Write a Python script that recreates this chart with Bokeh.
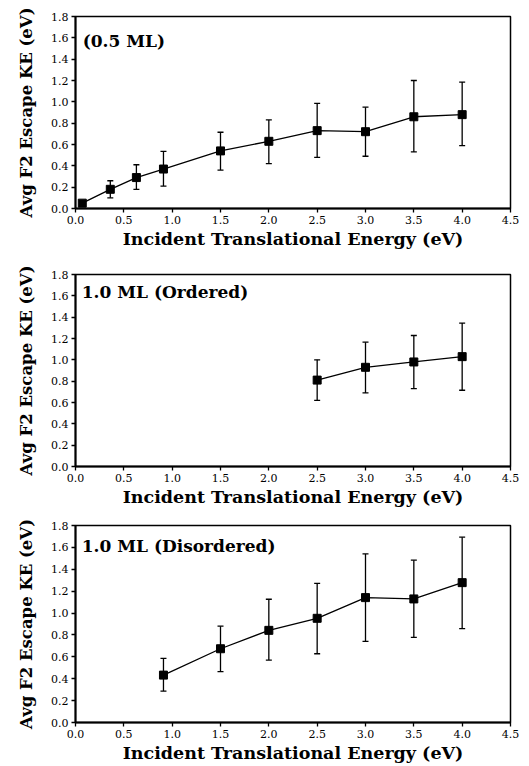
from bokeh.plotting import figure
from bokeh.layouts import column
from bokeh.models import ColumnDataSource, Whisker, Range1d, Label, FixedTicker, PrintfTickFormatter, TeeHead
from bokeh.embed import file_html
from bokeh.resources import INLINE

# ---- data ----
x_05 = [0.07, 0.36, 0.63, 0.91, 1.5, 2.0, 2.5, 3.0, 3.5, 4.0]
y_05 = [0.05, 0.18, 0.29, 0.37, 0.54, 0.63, 0.73, 0.72, 0.86, 0.88]
lo_05 = [0.05, 0.10, 0.18, 0.21, 0.36, 0.42, 0.48, 0.49, 0.53, 0.59]
hi_05 = [0.05, 0.26, 0.41, 0.535, 0.715, 0.83, 0.985, 0.95, 1.20, 1.185]

x_ord = [2.5, 3.0, 3.5, 4.0]
y_ord = [0.81, 0.93, 0.98, 1.03]
lo_ord = [0.62, 0.69, 0.73, 0.715]
hi_ord = [1.0, 1.166, 1.228, 1.345]

x_dis = [0.91, 1.5, 2.0, 2.5, 3.0, 3.5, 4.0]
y_dis = [0.433, 0.674, 0.842, 0.952, 1.141, 1.129, 1.278]
lo_dis = [0.287, 0.464, 0.57, 0.628, 0.741, 0.778, 0.857]
hi_dis = [0.586, 0.88, 1.126, 1.272, 1.54, 1.483, 1.693]

x_ticks = [0.0, 0.5, 1.0, 1.5, 2.0, 2.5, 3.0, 3.5, 4.0, 4.5]
y_ticks = [0.0, 0.2, 0.4, 0.6, 0.8, 1.0, 1.2, 1.4, 1.6, 1.8]
x_title = "Incident Translational Energy (eV)"
y_title = "Avg F2 Escape KE (eV)"
panel_titles = ["(0.5 ML)", "1.0 ML (Ordered)", "1.0 ML (Disordered)"]

SERIF = "DejaVu Serif"


def make_panel(xs, ys, lo, hi, title, height, bl, br, bt, bb, lab_x, lab_y):
    p = figure(width=520, height=height, output_backend="svg", toolbar_location=None,
               x_range=Range1d(0, 4.5), y_range=Range1d(0, 1.8),
               min_border_left=bl, min_border_right=br, min_border_top=bt, min_border_bottom=bb)
    p.xgrid.visible = False
    p.ygrid.visible = False
    p.outline_line_color = "black"
    p.outline_line_width = 1.5
    p.outline_line_alpha = 1.0
    for ax, ticks in ((p.xaxis[0], x_ticks), (p.yaxis[0], y_ticks)):
        ax.ticker = FixedTicker(ticks=ticks)
        ax.formatter = PrintfTickFormatter(format="%.1f")
        ax.minor_tick_line_color = None
        ax.major_tick_in = 0
        ax.major_tick_out = 4
        ax.major_tick_line_width = 1.3
        ax.major_tick_line_color = "black"
        ax.axis_line_width = 2
        ax.axis_line_color = "black"
        ax.major_label_text_font = SERIF
        ax.major_label_text_font_size = "11px"
        ax.major_label_text_color = "black"
        ax.axis_label_text_font = SERIF
        ax.axis_label_text_font_style = "bold"
        ax.axis_label_text_color = "black"
    p.xaxis.axis_label = x_title
    p.yaxis.axis_label = y_title
    p.xaxis.axis_label_text_font_size = "17.5px"
    p.yaxis.axis_label_text_font_size = "16.5px"
    p.xaxis.major_label_standoff = 3
    p.xaxis.axis_label_standoff = 2
    p.yaxis.major_label_standoff = 3
    p.yaxis.axis_label_standoff = 12

    src = ColumnDataSource(dict(x=xs, y=ys, lo=lo, hi=hi))
    w = Whisker(source=src, base="x", upper="hi", lower="lo", line_color="black", line_width=1.3,
                upper_head=TeeHead(size=6, line_color="black", line_width=1.3),
                lower_head=TeeHead(size=6, line_color="black", line_width=1.3))
    p.add_layout(w)
    p.line("x", "y", source=src, line_color="black", line_width=1.3)
    p.scatter("x", "y", source=src, marker="square", size=8, fill_color="black", line_color="black")

    p.add_layout(Label(x=lab_x, y=lab_y, text=title, text_font=SERIF, text_font_style="bold",
                       text_font_size="17px", text_color="black", text_baseline="middle", text_align="left"))
    return p


p1 = make_panel(x_05, y_05, lo_05, hi_05, panel_titles[0], 264, 71, 10, 16, 56, 0.075, 1.575)
p2 = make_panel(x_ord, y_ord, lo_ord, hi_ord, panel_titles[1], 251, 73, 5, 10, 49, 0.065, 1.64)
p3 = make_panel(x_dis, y_dis, lo_dis, hi_dis, panel_titles[2], 251, 75, 9, 10, 44, 0.065, 1.617)

layout = column(p1, p2, p3, spacing=0)
open("out.html", "w").write(file_html(layout, INLINE))
